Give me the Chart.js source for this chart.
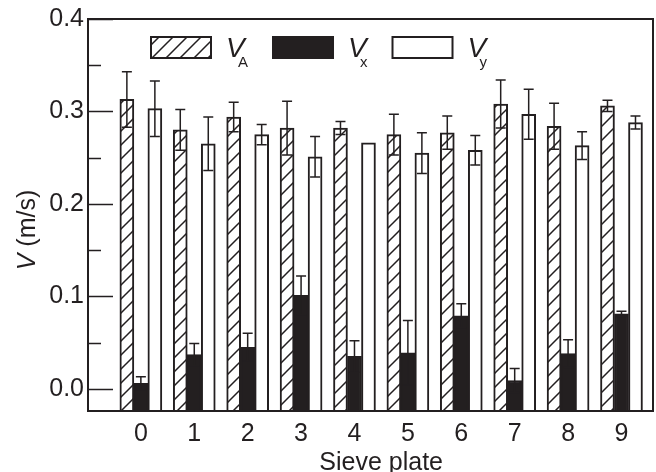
<!DOCTYPE html>
<html>
<head>
<meta charset="utf-8">
<script src="https://cdn.jsdelivr.net/npm/chart.js@4.4.0/dist/chart.umd.min.js"></script>
<style>
    html, body { margin: 0; padding: 0; background: #fff; }
</style>
</head>
<body>
<canvas id="grafico-sieve" width="656" height="472"></canvas>
<script>
// sieve plate numbers (x categories)
var plates = ['0', '1', '2', '3', '4', '5', '6', '7', '8', '9'];

// V_A, V_x, V_y (m/s) and their error bars
var vA = [0.313, 0.280, 0.294, 0.282, 0.282, 0.275, 0.277, 0.308, 0.284, 0.306];
var vAErr = [0.030, 0.022, 0.016, 0.029, 0.007, 0.022, 0.018, 0.026, 0.025, 0.006];
var vX = [0.006, 0.037, 0.045, 0.101, 0.035, 0.039, 0.079, 0.009, 0.038, 0.081];
var vXErr = [0.007, 0.012, 0.015, 0.021, 0.017, 0.035, 0.013, 0.013, 0.015, 0.003];
var vY = [0.303, 0.265, 0.275, 0.251, 0.266, 0.255, 0.258, 0.297, 0.263, 0.288];
var vYErr = [0.030, 0.029, 0.011, 0.022, 0.000, 0.022, 0.016, 0.027, 0.015, 0.007];

var seriesSubs = ['A', 'x', 'y'];

var yTicks = [0, 0.1, 0.2, 0.3, 0.4];
var yMinorTicks = [0.05, 0.15, 0.25, 0.35];

var yMin = -0.024, yMax = 0.4;
var xMin = -0.99, xMax = 9.59;

var ink = '#231f20';
var fontName = '"Liberation Sans", Arial, sans-serif';

function hatchPattern() {
    var c = document.createElement('canvas');
    c.width = 14; c.height = 14;
    var g = c.getContext('2d');
    g.fillStyle = '#fff';
    g.fillRect(0, 0, 14, 14);
    g.strokeStyle = ink;
    g.lineWidth = 1.5;
    g.beginPath();
    g.moveTo(-1, 15); g.lineTo(15, -1);
    g.moveTo(-1, 1); g.lineTo(1, -1);
    g.moveTo(13, 15); g.lineTo(15, 13);
    g.stroke();
    return g.createPattern(c, 'repeat');
}

function punti(arr) {
    return arr.map(function (v, i) { return { x: i, y: v }; });
}

var hatch = hatchPattern();

// error bars on top of the bars
var erroriPlugin = {
    id: 'errori',
    afterDatasetsDraw: function (chart) {
        var ctx = chart.ctx;
        var yScale = chart.scales.y;
        ctx.save();
        ctx.strokeStyle = ink;
        ctx.lineWidth = 1.5;
        chart.data.datasets.forEach(function (ds, d) {
            var meta = chart.getDatasetMeta(d);
            meta.data.forEach(function (bar, i) {
                var e = ds.err[i];
                if (!e) return;
                var v = ds.data[i].y;
                var yt = yScale.getPixelForValue(v + e);
                var yb = yScale.getPixelForValue(v - e);
                ctx.beginPath();
                ctx.moveTo(bar.x, yt); ctx.lineTo(bar.x, yb);
                ctx.moveTo(bar.x - 5, yt); ctx.lineTo(bar.x + 5, yt);
                ctx.moveTo(bar.x - 5, yb); ctx.lineTo(bar.x + 5, yb);
                ctx.stroke();
            });
        });
        ctx.restore();
    }
};

// frame, inward ticks, legend and axis titles
var cornicePlugin = {
    id: 'cornice',
    afterDraw: function (chart) {
        var ctx = chart.ctx;
        var a = chart.chartArea;
        var yScale = chart.scales.y;
        var xScale = chart.scales.x;
        ctx.save();
        ctx.strokeStyle = ink;
        ctx.lineWidth = 2;
        ctx.strokeRect(a.left, a.top, a.right - a.left, a.bottom - a.top);

        ctx.lineWidth = 1.5;
        ctx.beginPath();
        yTicks.forEach(function (v) {
            var y = Math.round(yScale.getPixelForValue(v)) + 0.5;
            ctx.moveTo(a.left, y); ctx.lineTo(a.left + 25, y);
        });
        yMinorTicks.forEach(function (v) {
            var y = Math.round(yScale.getPixelForValue(v)) + 0.5;
            ctx.moveTo(a.left, y); ctx.lineTo(a.left + 13, y);
        });
        ctx.stroke();

        // legend
        var x = a.left + 63;
        var top = a.top + 18;
        chart.data.datasets.forEach(function (ds, d) {
            ctx.fillStyle = ds.backgroundColor;
            ctx.fillRect(x, top, 60, 21);
            ctx.strokeStyle = ink;
            ctx.lineWidth = 2;
            ctx.strokeRect(x, top, 60, 21);
            var tx = x + 75;
            ctx.fillStyle = ink;
            ctx.textBaseline = 'alphabetic';
            ctx.textAlign = 'left';
            ctx.font = 'italic 28px ' + fontName;
            ctx.fillText('V', tx, top + 20);
            ctx.font = '15px ' + fontName;
            var sx = tx + 12;
            ctx.fillText(ds.sub, sx, top + 30);
            x = sx + ctx.measureText(ds.sub).width + 25;
        });

        // x title
        ctx.font = '25px ' + fontName;
        ctx.textAlign = 'center';
        ctx.textBaseline = 'alphabetic';
        ctx.fillText('Sieve plate', xScale.getPixelForValue(4.5), 470);

        // y title, V in italic
        ctx.translate(35, 230);
        ctx.rotate(-Math.PI / 2);
        ctx.font = 'italic 25px ' + fontName;
        var w1 = ctx.measureText('V').width;
        ctx.font = '25px ' + fontName;
        var w2 = ctx.measureText(' (m/s)').width;
        var sx0 = -(w1 + w2) / 2;
        ctx.textAlign = 'left';
        ctx.font = 'italic 25px ' + fontName;
        ctx.fillText('V', sx0, 0);
        ctx.font = '25px ' + fontName;
        ctx.fillText(' (m/s)', sx0 + w1, 0);
        ctx.restore();
    }
};

var ctx = document.getElementById('grafico-sieve');
var chart = new Chart(ctx, {
    type: 'bar',
    data: {
        datasets: [{
            label: 'VA',
            sub: seriesSubs[0],
            data: punti(vA),
            err: vAErr,
            backgroundColor: hatch,
            borderColor: ink,
            borderWidth: 2,
            base: yMin,
            barThickness: 14
        }, {
            label: 'Vx',
            sub: seriesSubs[1],
            data: punti(vX),
            err: vXErr,
            backgroundColor: ink,
            borderColor: ink,
            borderWidth: 2,
            base: yMin,
            barThickness: 14
        }, {
            label: 'Vy',
            sub: seriesSubs[2],
            data: punti(vY),
            err: vYErr,
            backgroundColor: '#ffffff',
            borderColor: ink,
            borderWidth: 2,
            base: yMin,
            barThickness: 14
        }]
    },
    options: {
        responsive: false,
        animation: false,
        layout: { padding: { top: 19, right: 3, left: 0, bottom: 0 } },
        plugins: {
            legend: { display: false },
            tooltip: { enabled: false }
        },
        scales: {
            x: {
                type: 'linear',
                min: xMin,
                max: xMax,
                offset: false,
                afterBuildTicks: function (s) {
                    s.ticks = plates.map(function (p, i) { return { value: i }; });
                },
                afterFit: function (s) { s.height = 61; },
                ticks: {
                    callback: function (v) { return plates[Math.round(v)]; },
                    font: { family: fontName, size: 25 },
                    color: ink,
                    padding: 8,
                    maxRotation: 0,
                    autoSkip: false
                },
                grid: { display: false, drawTicks: false },
                border: { display: true, color: ink, width: 2 }
            },
            y: {
                type: 'linear',
                min: yMin,
                max: yMax,
                afterBuildTicks: function (s) {
                    s.ticks = yTicks.map(function (v) { return { value: v }; });
                },
                afterFit: function (s) { s.width = 88; },
                ticks: {
                    callback: function (v) { return v.toFixed(1); },
                    font: { family: fontName, size: 25 },
                    color: ink,
                    padding: 4
                },
                grid: { display: false, drawTicks: false },
                border: { display: true, color: ink, width: 2 }
            }
        }
    },
    plugins: [erroriPlugin, cornicePlugin]
});
</script>
</body>
</html>
